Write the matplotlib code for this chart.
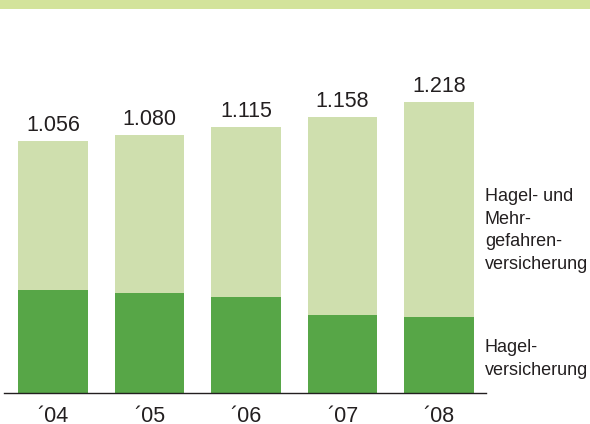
import matplotlib
matplotlib.use("Agg")
import matplotlib.pyplot as plt
from matplotlib.patches import Rectangle

plt.rcParams["font.family"] = ["Liberation Sans", "DejaVu Sans"]

# Data (Mio. EUR)
years = ["\u00b404", "\u00b405", "\u00b406", "\u00b407", "\u00b408"]
totals = [1056, 1080, 1115, 1158, 1218]
hagel = [432, 419, 403, 329, 319]
mehrgefahren = [t - h for t, h in zip(totals, hagel)]
total_labels = ["1.056", "1.080", "1.115", "1.158", "1.218"]

DARK = "#57a647"
LIGHT = "#cfdfae"
BAND = "#d3e39b"
TEXT = "#231f20"

W, H = 590, 424
fig = plt.figure(figsize=(W / 100, H / 100), dpi=100)

# header band across the top
fig.patches.append(Rectangle((0, 1 - 8.7 / H), 1, 8.7 / H, transform=fig.transFigure,
                             facecolor=BAND, edgecolor="none", zorder=0))

base_px = 393.3
top_px = 9.0
left_px, right_px = 4, 486
ax = fig.add_axes([left_px / W, (H - base_px) / H,
                   (right_px - left_px) / W, (base_px - top_px) / H])

x = list(range(len(years)))
ax.bar(x, hagel, width=0.725, color=DARK, zorder=2)
ax.bar(x, mehrgefahren, bottom=hagel, width=0.725, color=LIGHT, zorder=2)

ax.set_xlim(-0.508, 4.487)
ax.set_ylim(0, (base_px - top_px) / 0.239)

for s in ["top", "right", "left"]:
    ax.spines[s].set_visible(False)
ax.spines["bottom"].set_color(TEXT)
ax.spines["bottom"].set_linewidth(1.0)
ax.set_yticks([])
ax.set_xticks([])

# totals above bars
for i, (t, lab) in enumerate(zip(totals, total_labels)):
    ax.annotate(lab, xy=(i, t), xytext=(0, 7.2), textcoords="offset points",
                ha="center", va="baseline", fontsize=15.5, color=TEXT)

# year labels below axis
for i, y in enumerate(years):
    ax.annotate(y, xy=(i, 0), xycoords=("data", "axes fraction"),
                xytext=(0, -20.9), textcoords="offset points",
                ha="center", va="baseline", fontsize=15.5, color=TEXT)

# series labels on the right
upper = ["Hagel- und", "Mehr-", "gefahren-", "versicherung"]
for k, line in enumerate(upper):
    yb = 201 + k * 22.7
    fig.text(485 / W, 1 - yb / H, line, ha="left", va="baseline",
             fontsize=13.0, color=TEXT)
lower = ["Hagel-", "versicherung"]
for k, line in enumerate(lower):
    yb = 352.3 + k * 22.7
    fig.text(485 / W, 1 - yb / H, line, ha="left", va="baseline",
             fontsize=13.0, color=TEXT)

fig.savefig("out.png", dpi=100, facecolor="white")
